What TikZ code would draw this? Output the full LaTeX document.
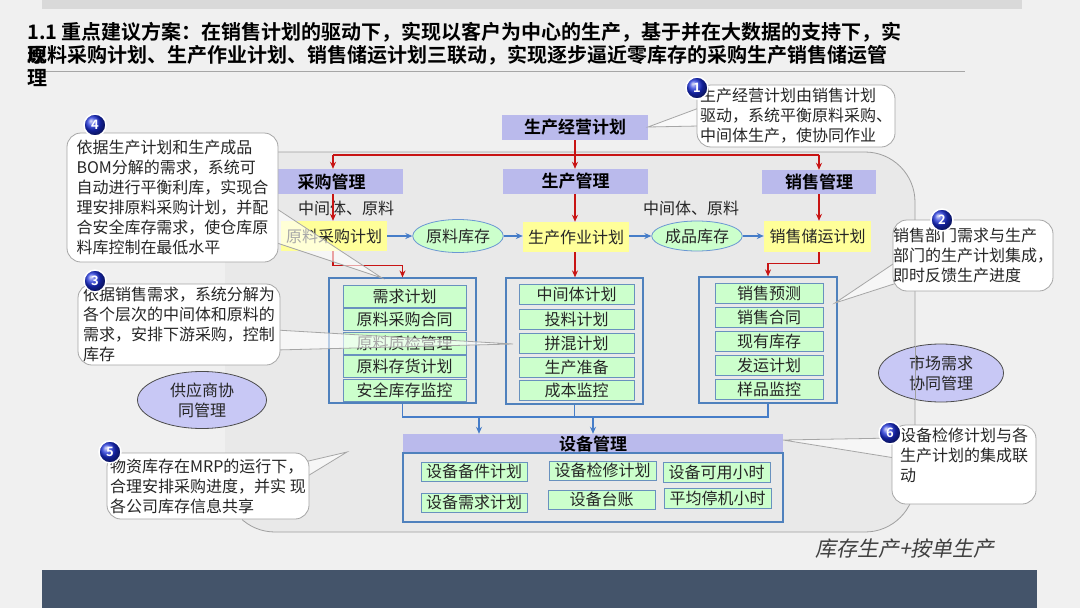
\documentclass[tikz,border=0pt]{standalone}
\usepackage{fontspec}
\setmainfont{Noto Sans CJK SC}[BoldFont={Noto Sans CJK SC Bold}]
\newfontfamily\slantfont{Noto Sans CJK SC}[FakeSlant=0.2]
\usetikzlibrary{shapes.geometric,arrows.meta}
\definecolor{bgc}{RGB}{240,240,240}
\definecolor{topbarc}{RGB}{217,217,217}
\definecolor{regionc}{RGB}{233,233,233}
\definecolor{lav}{RGB}{186,186,236}
\definecolor{lavel}{RGB}{200,200,245}
\definecolor{yel}{RGB}{255,255,153}
\definecolor{lgreen}{RGB}{204,255,204}
\definecolor{bblue}{RGB}{79,129,189}
\definecolor{iblue}{RGB}{105,145,190}
\definecolor{redline}{RGB}{200,20,20}
\definecolor{arrblue}{RGB}{70,125,200}
\definecolor{darkbar}{RGB}{68,84,106}
\definecolor{badgeblue}{RGB}{25,45,215}
\begin{document}
\begin{tikzpicture}[x=1pt,y=-1pt,
  txt/.style={font=\fontsize{16}{20}\selectfont, text=black!85},
  ttl/.style={font=\bfseries\fontsize{20}{24}\selectfont, inner sep=0, anchor=west},
  band/.style={fill=lav, draw=none, font=\bfseries\fontsize{17}{20}\selectfont, inner sep=0},
  ybox/.style={fill=yel, draw=none, txt, inner sep=0},
  gell/.style={ellipse, fill=lgreen, draw=arrblue!80, line width=0.8, txt, inner sep=0},
  grp/.style={draw=bblue, line width=1.2, fill=regionc, inner sep=0},
  item/.style={draw=iblue, fill=lgreen, line width=0.8, txt, inner sep=0},
  callout/.style={draw=gray!70, fill=white, rounded corners=14, txt, align=left, inner sep=0, line width=0.8},
  wedge/.style={draw=gray!70, fill=white, fill opacity=0.6, line width=0.8},
  badge/.style={circle, minimum size=22, inner sep=0, shading=ball, ball color=badgeblue, draw=white, line width=1.5, text=white, font=\bfseries\fontsize{13}{13}\selectfont},
  coll/.style={ellipse, fill=lavel, draw=black!70, line width=0.8, txt, align=center, inner sep=0},
  redc/.style={draw=redline, line width=1.2},
  redarr/.style={redc, -{Stealth[length=7,width=6]}},
  bluec/.style={draw=arrblue, line width=1.2},
  bluearr/.style={bluec, -{Stealth[length=7,width=6]}}
]
\useasboundingbox (0,0) rectangle (1080,608);
\fill[bgc] (0,0) rectangle (1080,608);
\fill[topbarc] (42,0) rectangle (1022,9);
% title
\node[ttl] (t1) at (27,32) {1.1 重点建议方案：在销售计划的驱动下，实现以客户为中心的生产，基于并在大数据的支持下，实};
\node[ttl] (t2) at (27,55) {原料采购计划、生产作业计划、销售储运计划三联动，实现逐步逼近零库存的采购生产销售储运管};
\node[ttl] (t2b) at (27,55) {现};
\draw[gray!70, line width=0.8] (27,71) -- (965,71);
\node[ttl] (t3) at (27,78) {理};
% main region
\fill[regionc, rounded corners=50] (225,152) rectangle (915,532);
\begin{scope}
\clip (242,0) rectangle (1080,608);
\draw[draw=gray!75, line width=0.8, rounded corners=50] (225,152) rectangle (915,532);
\end{scope}
% top plan
\node[band, minimum width=146, minimum height=25] (jy) at (575,127.5) {生产经营计划};
\node[band, minimum width=143, minimum height=25] (cgm) at (331.5,181.5) {采购管理};
\node[band, minimum width=145, minimum height=25] (scm) at (575.5,181.5) {生产管理};
\node[band, minimum width=114, minimum height=24] (xsm) at (819,182) {销售管理};
\coordinate (hl) at (333,155);
\coordinate (hm) at (575,155);
\coordinate (hr) at (819,155);
\draw[redc] (jy.south) -- (hm);
\draw[redc] (hl) -- (hr);
\draw[redarr] (hl) -- (hl |- cgm.north);
\draw[redarr] (hm) -- (hm |- scm.north);
\draw[redarr] (hr) -- (hr |- xsm.north);
\node[txt] (zj1) at (346,208) {中间体、原料};
\node[txt] (zj2) at (691,208) {中间体、原料};
% yellow plans and stocks
\node[ybox, minimum width=106, minimum height=30] (ycg) at (334,236) {原料采购计划};
\node[gell, minimum width=68, minimum height=33] (ekc) at (458,236) {原料库存};
\node[ybox, minimum width=106, minimum height=30] (ysc) at (576,237) {生产作业计划};
\node[gell, minimum width=79, minimum height=30] (ecp) at (697,236) {成品库存};
\node[ybox, minimum width=107, minimum height=31] (yxs) at (817.5,236.5) {销售储运计划};
\draw[bluearr] (ycg.east) -- (ekc.west);
\draw[bluearr] (ekc.east) -- (ekc.east -| ysc.west);
\draw[bluearr] (ysc.east |- ecp.west) -- (ecp.west);
\draw[bluearr] (ecp.east) -- (ecp.east -| yxs.west);
\draw[redarr] (hl |- cgm.south) -- (hl |- ycg.north);
\draw[redarr] (hm |- scm.south) -- (hm |- ysc.north);
\draw[redarr] (hr |- xsm.south) -- (hr |- yxs.north);
% groups
\node[grp, minimum width=147, minimum height=125] (g1) at (402.5,340.5) {};
\node[grp, minimum width=137, minimum height=126] (g2) at (574.5,341) {};
\node[grp, minimum width=138, minimum height=126] (g3) at (768,340) {};
\draw[redarr] (hl |- ycg.south) -- ++(0,14) -| (g1.north);
\draw[redarr] (hm |- ysc.south) -- (hm |- g2.north);
\draw[redarr] (hr |- yxs.south) -- ++(0,11) -| (g3.north);
\node[item, minimum width=123, minimum height=22] (i11) at (404.5,296) {需求计划};
\node[item, minimum width=123, minimum height=22] (i12) at (404.5,319.5) {原料采购合同};
\node[item, minimum width=123, minimum height=22] (i13) at (404.5,343) {原料质检管理};
\node[item, minimum width=123, minimum height=22] (i14) at (404.5,366.5) {原料存货计划};
\node[item, minimum width=123, minimum height=22] (i15) at (404.5,390) {安全库存监控};
\node[item, minimum width=115, minimum height=20] (i21) at (576.5,294.5) {中间体计划};
\node[item, minimum width=115, minimum height=20] (i22) at (576.5,319) {投料计划};
\node[item, minimum width=115, minimum height=20] (i23) at (576.5,343) {拼混计划};
\node[item, minimum width=115, minimum height=20] (i24) at (576.5,367) {生产准备};
\node[item, minimum width=115, minimum height=20] (i25) at (576.5,390) {成本监控};
\node[item, minimum width=108, minimum height=20] (i31) at (769,293) {销售预测};
\node[item, minimum width=108, minimum height=20] (i32) at (769,317) {销售合同};
\node[item, minimum width=108, minimum height=20] (i33) at (769,341) {现有库存};
\node[item, minimum width=108, minimum height=20] (i34) at (769,365) {发运计划};
\node[item, minimum width=108, minimum height=20] (i35) at (769,389) {样品监控};
% equipment
\node[band, minimum width=380, minimum height=19] (sbm) at (593,443.5) {设备管理};
\node[grp, minimum width=380, minimum height=69] (sbx) at (593,487.5) {};
\coordinate (bl) at (403,417);
\coordinate (a1) at (479,417);
\coordinate (a2) at (593,417);
\draw[bluec] (g1.south) -- (g1.south |- bl) -- (g3.south |- bl) -- (g3.south);
\draw[bluec] (g2.south) -- (g2.south |- bl);
\draw[bluearr] (a1) -- (a1 |- sbm.north);
\draw[bluearr] (a2) -- (a2 |- sbm.north);
\node[item, minimum width=106, minimum height=19] (s1) at (474,471.5) {设备备件计划};
\node[item, minimum width=107, minimum height=19] (s2) at (602.5,470.5) {设备检修计划};
\node[item, minimum width=107, minimum height=20] (s3) at (716.5,472) {设备可用小时};
\node[item, minimum width=106, minimum height=19] (s4) at (474,502.5) {设备需求计划};
\node[item, minimum width=107, minimum height=19] (s5) at (601.5,499.5) {设备台账};
\node[item, minimum width=107, minimum height=20] (s6) at (717.5,498) {平均停机小时};
% collaboration ellipses
\node[coll, minimum width=129, minimum height=57] (egy) at (202,400) {供应商协\\同管理};
\node[coll, minimum width=125, minimum height=58] (esc) at (941,373) {市场需求\\协同管理};
\draw[gray!75, line width=0.8] (915,346) -- (915,400);
% callout wedges
\coordinate (p1) at (648,127);
\coordinate (p2) at (835,303);
\coordinate (p3) at (513,344);
\coordinate (p4) at (382,278);
\coordinate (p5) at (347,452);
\coordinate (p6) at (783,440);
\draw[wedge] (699,108) -- (p1) -- (699,126) -- cycle;
\draw[wedge] (896,262) -- (p2) -- (900,282) -- cycle;
\draw[wedge] (276,330) -- (p3) -- (276,350) -- cycle;
\draw[wedge] (274,207) -- (p4) -- (274,242) -- cycle;
\draw[wedge] (300,463) -- (p5) -- (306,477) -- cycle;
\draw[wedge] (895,438) -- (p6) -- (895,458) -- cycle;
% callouts
\node[callout, minimum width=198, minimum height=62] (c1) at (796,116) {生产经营计划由销售计划\\驱动，系统平衡原料采购、\\中间体生产，使协同作业};
\node[callout, minimum width=156, minimum height=71] (c2) at (973,255.5) {销售部门需求与生产\\部门的生产计划集成，\\即时反馈生产进度};
\node[callout, minimum width=202, minimum height=81] (c3) at (179,324.5) {依据销售需求，系统分解为\\各个层次的中间体和原料的\\需求，安排下游采购，控制\\库存};
\node[callout, minimum width=211, minimum height=129] (c4) at (172.5,197.5) {依据生产计划和生产成品\\BOM分解的需求，系统可\\自动进行平衡利库，实现合\\理安排原料采购计划，并配\\合安全库存需求，使仓库原\\料库控制在最低水平};
\node[callout, minimum width=202, minimum height=66] (c5) at (208,486) {物资库存在MRP的运行下，\\合理安排采购进度，并实 现\\各公司库存信息共享};
\node[callout, minimum width=144, minimum height=79, text depth=20] (c6) at (964,464.5) {设备检修计划与各\\生产计划的集成联\\动};
% badges
\node[badge] (b1) at (697,88) {1};
\node[badge] (b2) at (942,220) {2};
\node[badge] (b3) at (95,281) {3};
\node[badge] (b4) at (95,125) {4};
\node[badge] (b5) at (110,452) {5};
\node[badge] (b6) at (890,433) {6};
% bottom
\node[font=\slantfont\fontsize{21}{24}\selectfont, text=black!75, inner sep=0] (kc) at (905,549) {库存生产+按单生产};
\fill[darkbar] (42,570) rectangle (1037,608);
\end{tikzpicture}
\end{document}
